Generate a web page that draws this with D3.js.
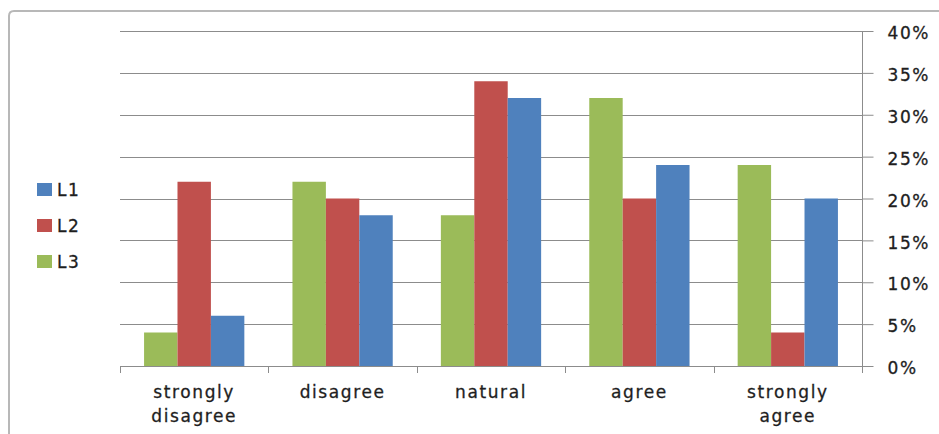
<!DOCTYPE html>
<html>
<head>
<meta charset="utf-8">
<script src="https://cdn.jsdelivr.net/npm/d3@7"></script>
<style>
  html, body { margin: 0; padding: 0; background: #fff; }
  svg { display: block; }
  text { font-family: "DejaVu Sans", "Noto Sans", sans-serif; fill: #1e1e1e; stroke: #1e1e1e; stroke-width: 0.3px; letter-spacing: 1.6px; }
</style>
</head>
<body>
<svg id="chart" width="939" height="434"></svg>
<script>
// Survey responses per answer category
const categories = ["strongly disagree", "disagree", "natural", "agree", "strongly agree"];
const seriesNames = ["L3", "L2", "L1"];
const L1 = [0.06, 0.18, 0.32, 0.24, 0.20];
const L2 = [0.22, 0.20, 0.34, 0.20, 0.04];
const L3 = [0.04, 0.22, 0.18, 0.32, 0.24];
const yTicks = [0, 0.05, 0.10, 0.15, 0.20, 0.25, 0.30, 0.35, 0.40];
const legendOrder = ["L1", "L2", "L3"];

const values = { L1, L2, L3 };
const colors = { L1: "#4F81BD", L2: "#C0504D", L3: "#9BBB59" };

const svg = d3.select("#chart");
const plot = { left: 120, right: 862, top: 31, bottom: 366 };
const fontSize = 17;

// Chart area frame
svg.append("path")
  .attr("d", "M9,434 L9,16 Q9,11 14,11 L945,11")
  .attr("fill", "none").attr("stroke", "#b8b8b8").attr("stroke-width", 2);

const x0 = d3.scaleBand().domain(categories).range([plot.left, plot.right]).paddingInner(0).paddingOuter(0);
const x1 = d3.scaleBand().domain(seriesNames).range([0, x0.bandwidth()]).paddingInner(0).paddingOuter(0.72);
const y = d3.scaleLinear().domain([0, 0.40]).range([plot.bottom, plot.top]);

// Horizontal gridlines
svg.append("g").selectAll("line").data(yTicks.filter(d => d > 0)).join("line")
  .attr("x1", plot.left).attr("x2", plot.right)
  .attr("y1", d => Math.round(y(d)) + 0.5).attr("y2", d => Math.round(y(d)) + 0.5)
  .attr("stroke", "#8c8c8c").attr("stroke-width", 1);

// Bars
const groups = svg.append("g").selectAll("g").data(categories).join("g")
  .attr("transform", d => `translate(${x0(d)},0)`);
groups.selectAll("rect")
  .data((c, i) => seriesNames.map(s => ({ s, v: values[s][i] })))
  .join("rect")
  .attr("x", d => x1(d.s))
  .attr("width", x1.bandwidth())
  .attr("y", d => y(d.v))
  .attr("height", d => y(0) - y(d.v))
  .attr("fill", d => colors[d.s]);

// Right value axis
const yAxis = d3.axisRight(y).tickValues(yTicks).tickFormat(d3.format(".0%")).tickSize(11).tickPadding(14);
const ya = svg.append("g").attr("transform", `translate(${plot.right + 0.5},0)`).call(yAxis);
ya.attr("font-family", null).attr("font-size", null);
ya.select(".domain").attr("stroke", "#8c8c8c").attr("d", `M0,${plot.top}V${plot.bottom + 7}`);
ya.selectAll(".tick line").attr("stroke", "#8c8c8c");
ya.selectAll(".tick text").attr("font-size", fontSize).attr("fill", "#1e1e1e").attr("dy", "0.45em");

// Category axis line
svg.append("line")
  .attr("x1", plot.left).attr("x2", plot.right)
  .attr("y1", plot.bottom + 0.5).attr("y2", plot.bottom + 0.5)
  .attr("stroke", "#8c8c8c");
// Category boundary ticks
const bounds = categories.map(c => x0(c)).concat([plot.right]);
svg.append("g").selectAll("line").data(bounds).join("line")
  .attr("x1", d => Math.round(d) + 0.5).attr("x2", d => Math.round(d) + 0.5)
  .attr("y1", plot.bottom).attr("y2", plot.bottom + 7)
  .attr("stroke", "#8c8c8c");

// Category labels (wrapped onto two lines where needed)
const labels = svg.append("g");
categories.forEach(c => {
  const cx = x0(c) + x0.bandwidth() / 2;
  const t = labels.append("text")
    .attr("x", cx)
    .attr("y", 398)
    .attr("text-anchor", "middle")
    .attr("font-size", fontSize);
  c.split(" ").forEach((w, i) => t.append("tspan")
    .attr("x", cx)
    .attr("dy", i === 0 ? 0 : 24)
    .text(w));
});

// Legend
const legend = svg.append("g").selectAll("g").data(legendOrder).join("g")
  .attr("transform", (d, i) => `translate(37,${183 + i * 36})`);
legend.append("rect").attr("width", 15).attr("height", 13).attr("fill", d => colors[d]);
legend.append("text").attr("x", 20).attr("y", 12.5).attr("font-size", fontSize).text(d => d);
</script>
</body>
</html>
